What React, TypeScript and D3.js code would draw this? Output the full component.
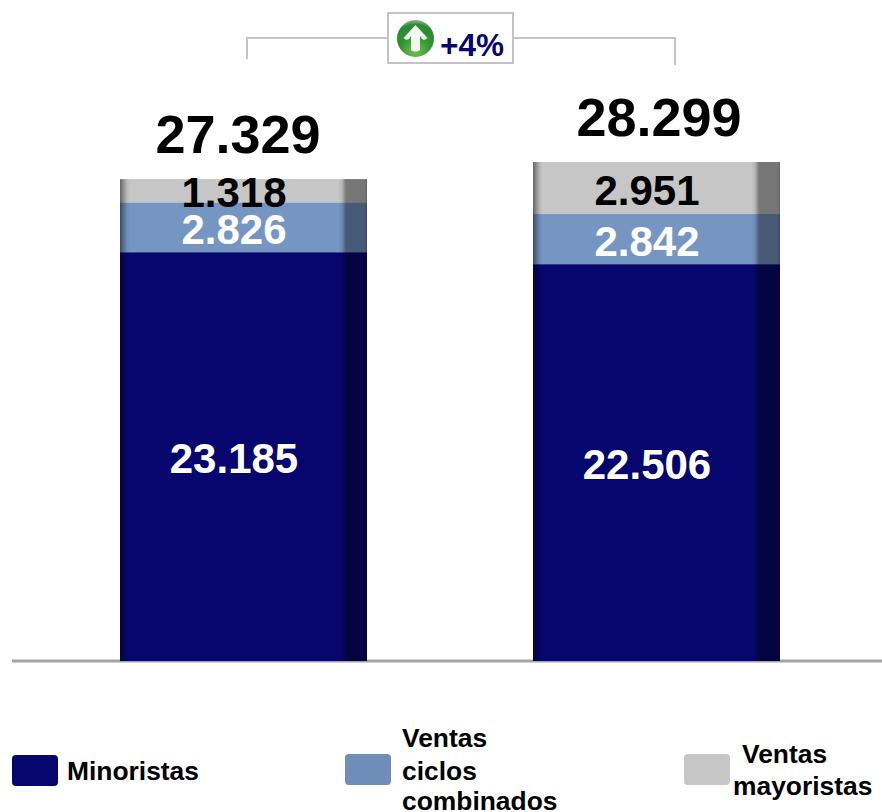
import React from "react";
import * as d3 from "d3";

const periods = ["Periodo 1", "Periodo 2"];
const seriesNames = ["Minoristas", "Ventas ciclos combinados", "Ventas mayoristas"];
const minoristas = [23185, 22506];
const ciclosCombinados = [2826, 2842];
const mayoristas = [1318, 2951];
const totals = [27329, 28299];
const changeLabel = "+4%";

const colors = ["#06066e", "#7596c3", "#c6c6c6"];
const legendColors = ["#06066e", "#6f8db9", "#c6c6c6"];
const labelColors = ["#ffffff", "#ffffff", "#000000"];
const labelSize = 42;
const totalDx = [-5.5, 2.5];

const fmt = (v: number) => d3.format(",")(v).replace(",", ".");
const FONT = "'Liberation Sans', Arial, sans-serif";

const W = 882;
const H = 812;
const baseY = 661;

const x = d3.scaleBand<string>().domain(periods).range([37.4, 862.6]).paddingInner(0.402).paddingOuter(0.2);
const y = d3.scaleLinear().domain([0, 28299]).range([baseY, 162]);

const stackData = periods.map((p, i) => ({
  period: p,
  [seriesNames[0]]: minoristas[i],
  [seriesNames[1]]: ciclosCombinados[i],
  [seriesNames[2]]: mayoristas[i],
}));
const stacked = d3.stack<any>().keys(seriesNames)(stackData);

const legend = [
  { box: [12, 755], lines: ["Minoristas"], tx: [67], ty: [780] },
  { box: [345, 754], lines: ["Ventas", "ciclos", "combinados"], tx: [402, 402, 402], ty: [747, 780, 810] },
  { box: [684, 754], lines: ["Ventas", "mayoristas"], tx: [742, 733], ty: [763, 795] },
];

export default function App() {
  const bw = x.bandwidth();
  return (
    <svg width={W} height={H} viewBox={`0 0 ${W} ${H}`} style={{ position: "absolute", left: 0, top: 0, background: "#fff" }} fontFamily={FONT}>
      <defs>
        <linearGradient id="shade" x1="0" x2="1" y1="0" y2="0">
          <stop offset="0" stopColor="#000" stopOpacity={0.5} />
          <stop offset="0.012" stopColor="#000" stopOpacity={0.3} />
          <stop offset="0.03" stopColor="#000" stopOpacity={0.05} />
          <stop offset="0.04" stopColor="#000" stopOpacity={0} />
          <stop offset="0.885" stopColor="#000" stopOpacity={0} />
          <stop offset="0.9" stopColor="#000" stopOpacity={0.1} />
          <stop offset="0.915" stopColor="#000" stopOpacity={0.4} />
          <stop offset="0.99" stopColor="#000" stopOpacity={0.4} />
          <stop offset="1" stopColor="#000" stopOpacity={0.5} />
        </linearGradient>
        <radialGradient id="ball" cx="0.5" cy="0.85" r="0.85">
          <stop offset="0" stopColor="#74c54c" />
          <stop offset="0.5" stopColor="#2f9233" />
          <stop offset="0.85" stopColor="#2a8a32" />
          <stop offset="1" stopColor="#8fb98f" />
        </radialGradient>
        <filter id="soft" filterUnits="userSpaceOnUse" x="0" y="650" width={W} height="24">
          <feGaussianBlur stdDeviation="0.7" />
        </filter>
      </defs>

      {/* bracket */}
      <g fill="none" stroke="#c4c4c4" strokeWidth={2}>
        <path d="M247,59V38H388" />
        <path d="M513,38H675V65" />
        <rect x={388} y={13} width={125} height={50} fill="#fff" />
      </g>
      <circle cx={415.5} cy={38.5} r={18.5} fill="url(#ball)" />
      <path d="M415.5,25 L427.5,38 Q425,41 422,39 L420,36 L420,50 Q415.5,53 411,50 L411,36 L409,39 Q406,41 403.5,38 Z" fill="#f2f8ee" />
      <text x={440} y={56} fontSize={31.5} fontWeight={700} fill="#06066e">{changeLabel}</text>

      {/* baseline */}
      <line x1={12} x2={W} y1={baseY} y2={baseY} stroke="#a4a4a4" strokeWidth={3} filter="url(#soft)" />

      {/* bars */}
      {periods.map((p, i) => {
        const bx = x(p)!;
        return (
          <g key={p}>
            {stacked.map((s, j) => (
              <rect key={s.key} x={bx} width={bw} y={y(s[i][1])} height={y(s[i][0]) - y(s[i][1])} fill={colors[j]} />
            ))}
            <rect x={bx} width={bw} y={y(totals[i])} height={y(0) - y(totals[i])} fill="url(#shade)" />
          </g>
        );
      })}

      {/* values */}
      {periods.map((p, i) => {
        const cx = x(p)! + bw / 2;
        return (
          <g key={p} fontWeight={700} textAnchor="middle">
            {stacked.map((s, j) => {
              const mid = (y(s[i][0]) + y(s[i][1])) / 2;
              return (
                <text key={s.key} x={cx - 9.5} y={mid + 1.5 + labelSize * 0.358} fontSize={labelSize} fill={labelColors[j]}>
                  {fmt(s[i][1] - s[i][0])}
                </text>
              );
            })}
            <text x={cx + totalDx[i]} y={y(totals[i]) - 26.5} fontSize={54} fill="#000">{fmt(totals[i])}</text>
          </g>
        );
      })}

      {/* legend */}
      {legend.map((l, i) => (
        <g key={i}>
          <rect x={l.box[0]} y={l.box[1]} width={46} height={31} rx={4} fill={legendColors[i]} />
          {l.lines.map((t, k) => (
            <text key={k} x={l.tx[k]} y={l.ty[k]} fontSize={26.4} fontWeight={700} fill="#000">{t}</text>
          ))}
        </g>
      ))}
    </svg>
  );
}
